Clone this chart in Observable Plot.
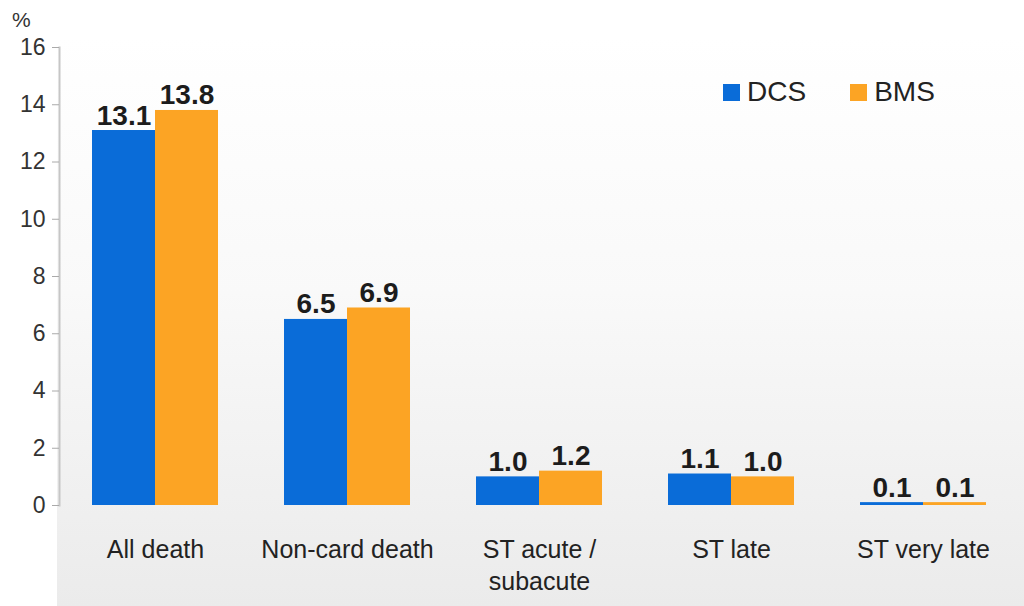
<!DOCTYPE html>
<html>
<head>
<meta charset="utf-8">
<script src="https://cdn.jsdelivr.net/npm/d3@7"></script>
<script src="https://cdn.jsdelivr.net/npm/@observablehq/plot@0.6"></script>
<style>
  html, body { margin: 0; padding: 0; background: #fff; }
  #wrap { position: relative; width: 1024px; height: 606px; overflow: hidden; font-family: "Liberation Sans", Arial, sans-serif; }
  #bg { position: absolute; left: 57px; top: 36px; right: 0; bottom: 0;
        background: linear-gradient(to bottom, #ffffff 0%, #f9f9f9 45%, #ebebeb 100%); }
  #chart { position: absolute; left: 0; top: 0; }
  #unit { position: absolute; left: 12px; top: 8px; font-size: 21px; color: #333; }
  #legend { position: absolute; left: 723px; top: 76px; display: flex; align-items: center; font-size: 28px; color: #222; }
  .sw { width: 17px; height: 17px; margin-right: 7px; }
  .item { display: flex; align-items: center; margin-right: 44px; }
</style>
</head>
<body>
<div id="wrap">
  <div id="bg"></div>
  <div id="chart"></div>
  <div id="unit">%</div>
  <div id="legend"></div>
</div>
<script>
const categories = ["All death", "Non-card death", "ST acute /\nsubacute", "ST late", "ST very late"];
const series = ["DCS", "BMS"];
const dcsValues = [13.1, 6.5, 1.0, 1.1, 0.1];
const bmsValues = [13.8, 6.9, 1.2, 1.0, 0.1];
const yTicks = [0, 2, 4, 6, 8, 10, 12, 14, 16];
const seriesColors = ["#0a6cd8", "#fca424"];

const rows = [];
categories.forEach((c, i) => {
  rows.push({category: c, series: series[0], value: dcsValues[i]});
  rows.push({category: c, series: series[1], value: bmsValues[i]});
});

const chart = Plot.plot({
  width: 1024,
  height: 606,
  marginTop: 47,
  marginBottom: 101,
  marginLeft: 57,
  marginRight: 3,
  style: {background: "transparent", fontFamily: "'Liberation Sans', Arial, sans-serif", overflow: "visible"},
  fx: {domain: categories, padding: 0},
  x: {domain: series, paddingInner: 0, paddingOuter: 0.52, axis: null},
  y: {domain: [0, 16]},
  color: {domain: series, range: seriesColors},
  marks: [
    Plot.frame({anchor: "left", facetAnchor: "left", stroke: "#c6c6c6", strokeWidth: 2}),
    Plot.barY(rows, {fx: "category", x: "series", y: "value", fill: "series"}),
    Plot.text(rows, {fx: "category", x: "series", y: "value", text: d => d.value.toFixed(1),
      lineAnchor: "bottom", dy: -6, fontSize: 28, fontWeight: "bold", fill: "#1c1c1c"}),
    Plot.axisY({ticks: yTicks, tickSize: 7, tickPadding: 7, fontSize: 23, stroke: "#aaa", color: "#333", label: null}),
    Plot.axisFx({anchor: "bottom", tickSize: 0, tickPadding: 29, fontSize: 25, lineHeight: 1.3, label: null, color: "#222"})
  ]
});
document.getElementById("chart").appendChild(chart);

const legend = document.getElementById("legend");
series.forEach((s, i) => {
  const item = document.createElement("div");
  item.className = "item";
  const sw = document.createElement("div");
  sw.className = "sw";
  sw.style.background = seriesColors[i];
  const t = document.createElement("span");
  t.textContent = s;
  item.appendChild(sw);
  item.appendChild(t);
  legend.appendChild(item);
});
</script>
</body>
</html>
